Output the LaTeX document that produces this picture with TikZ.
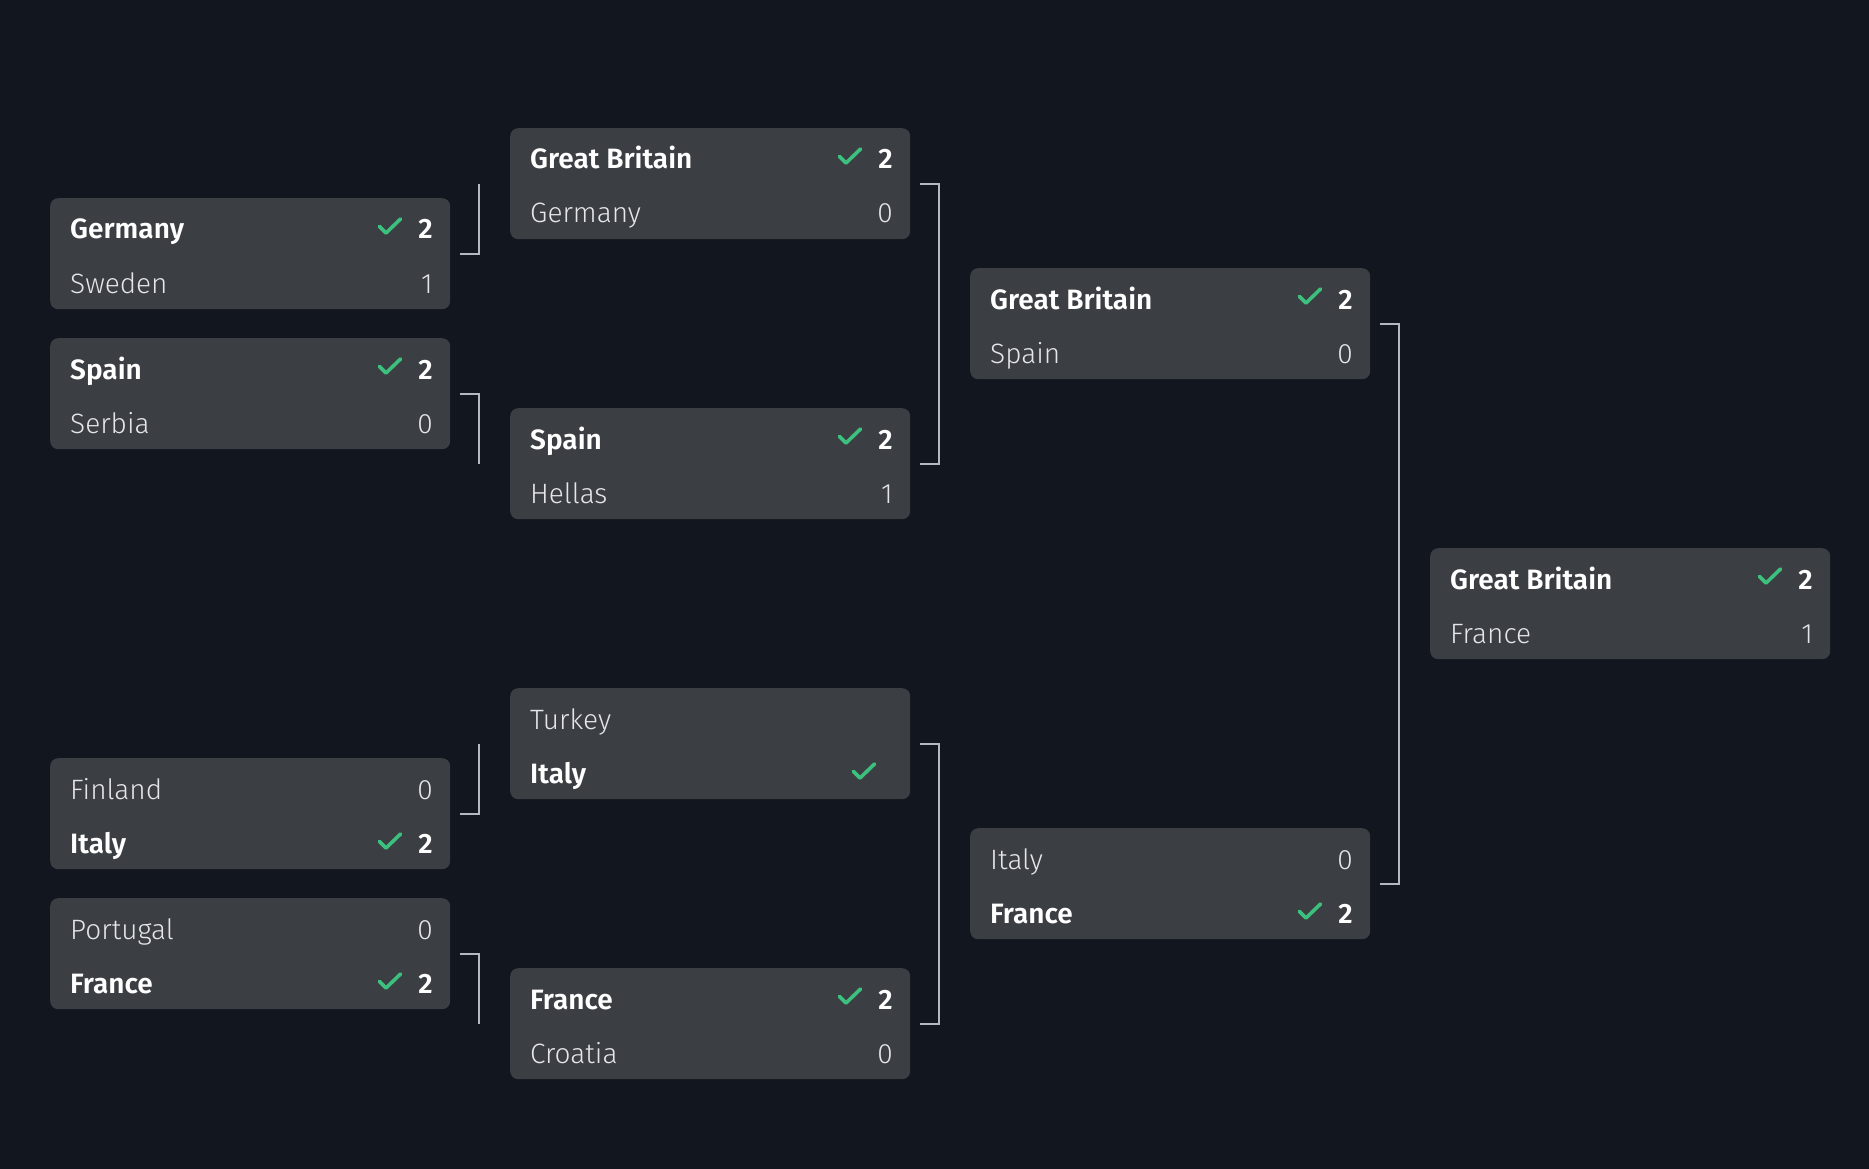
\documentclass[tikz,border=0pt]{standalone}
\usepackage{fontspec}
\setmainfont{Fira Sans}
\newfontfamily\winfont{Fira Sans SemiBold}
\newfontfamily\losefont{Fira Sans Light}
\usetikzlibrary{positioning}
\definecolor{night}{HTML}{11161F}
\definecolor{card}{HTML}{3B3E42}
\definecolor{wire}{HTML}{B4B8C0}
\definecolor{tickgreen}{HTML}{3CC07E}
\definecolor{paper}{HTML}{FFFFFF}
\definecolor{soft}{HTML}{E4E6E9}
\tikzset{
  match/.style={fill=card,rounded corners=8pt,minimum width=400pt,minimum height=111pt,inner sep=0pt,anchor=north west},
  win/.style={font=\winfont\fontsize{28}{32}\selectfont,text=paper,inner sep=0pt},
  lose/.style={font=\losefont\fontsize{28}{32}\selectfont,text=soft,inner sep=0pt},
  link/.style={draw=wire,line width=2pt},
  wincheck/.pic={\draw[draw=tickgreen,line width=3.6pt,line cap=round,line join=round] (-10.5,0.5) -- (-4,7) -- (10.5,-7);}
}

\begin{document}
\begin{tikzpicture}[x=1pt,y=-1pt]
  \useasboundingbox (0,0) rectangle (1869,1169);
  \fill[night] (0,0) rectangle (1869,1169);

  \foreach \id/\px/\py/\ta/\ka/\sa/\tb/\kb/\sb/\cy/\cx in {
      m11/50/198/Germany/win/2/Sweden/lose/1/28/60,
      m12/50/338/Spain/win/2/Serbia/lose/0/28/60,
      m13/50/758/Finland/lose/0/Italy/win/2/83/60,
      m14/50/898/Portugal/lose/0/France/win/2/83/60,
      m21/510/128/Great Britain/win/2/Germany/lose/0/28/60,
      m22/510/408/Spain/win/2/Hellas/lose/1/28/60,
      m23/510/688/Turkey/lose//Italy/win//83/46,
      m24/510/968/France/win/2/Croatia/lose/0/28/60,
      m31/970/268/Great Britain/win/2/Spain/lose/0/28/60,
      m32/970/828/Italy/lose/0/France/win/2/83/60,
      m41/1430/548/Great Britain/win/2/France/lose/1/28/60} {
    \node[match] (\id) at (\px,\py) {};
    \node[\ka,anchor=base west] (\id-a) at (\px+20,\py+41) {\ta};
    \node[\ka,anchor=base east] (\id-as) at (\px+383,\py+41) {\sa};
    \node[\kb,anchor=base west] (\id-b) at (\px+20,\py+95) {\tb};
    \node[\kb,anchor=base east] (\id-bs) at (\px+383,\py+95) {\sb};
    \pic at (\px+400-\cx,\py+\cy) {wincheck};
  }

  \draw[link] ([xshift=10]m11.east) -| ([xshift=-31]m21.west);
  \draw[link] ([xshift=10]m12.east) -| ([xshift=-31]m22.west);
  \draw[link] ([xshift=10]m13.east) -| ([xshift=-31]m23.west);
  \draw[link] ([xshift=10]m14.east) -| ([xshift=-31]m24.west);

  \draw[link] ([xshift=10]m21.east) -| ([xshift=-31]m31.west) |- ([xshift=10]m22.east);
  \draw[link] ([xshift=10]m23.east) -| ([xshift=-31]m32.west) |- ([xshift=10]m24.east);

  \draw[link] ([xshift=10]m31.east) -| ([xshift=-31]m41.west) |- ([xshift=10]m32.east);
\end{tikzpicture}
\end{document}
